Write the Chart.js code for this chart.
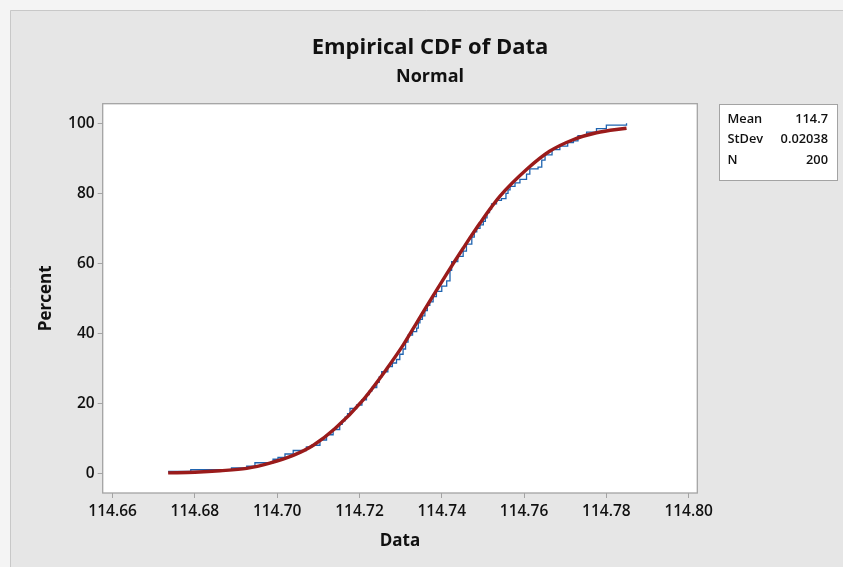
<!DOCTYPE html>
<html>
<head>
<meta charset="utf-8">
<script src="https://cdn.jsdelivr.net/npm/chart.js@4/dist/chart.umd.min.js"></script>
<style>
body{margin:0;background:#f4f4f4}
#wrap{width:843px;height:567px}
</style>
</head>
<body>
<div id="wrap"><canvas id="cdf" width="843" height="567"></canvas></div>
<script>
// ================= DATA =================
// fitted normal curve
const fitX=[114.6735,114.6800,114.6861,114.6926,114.6982,114.7039,114.7088,114.7140,114.7209,114.7266,114.7306,114.7339,114.7375,114.7412,114.7452,114.7493,114.7541,114.7608,114.7662,114.7719,114.7776,114.7849]
const fitY=[0.1,0.3,0.7,1.4,2.9,5.1,8.0,12.7,21.0,29.8,36.6,43.0,50.0,57.0,64.3,71.5,79.1,87.0,92.0,95.3,97.3,98.6]

// empirical steps (approximate)
const stepX=[114.6735,114.6790,114.6857,114.6889,114.6926,114.6946,114.6990,114.7002,114.7019,114.7039,114.7071,114.7084,114.7104,114.7120,114.7136,
114.7152,114.7158,114.7165,114.7171,114.7177,114.7193,114.7206,114.7217,114.7224,114.7230,114.7242,114.7248,114.7254,114.7269,114.7280,114.7290,
114.7298,114.7306,114.7312,114.7318,114.7329,114.7339,114.7343,114.7347,114.7353,114.7359,114.7365,114.7371,114.7379,114.7387,114.7400,114.7412,
114.7420,114.7424,114.7439,114.7452,114.7460,114.7473,114.7479,114.7485,114.7493,114.7501,114.7506,114.7510,114.7516,114.7521,114.7533,114.7545,
114.7556,114.7561,114.7566,114.7578,114.7590,114.7606,114.7614,114.7634,114.7643,114.7651,114.7668,114.7687,114.7706,114.7720,114.7731,114.7752,
114.7776,114.7800,114.7849]
const stepY=[0.5,1.0,1.0,1.5,2.0,3.0,4.0,4.5,5.5,6.5,7.5,8.0,9.5,11.0,12.5,
14.0,15.0,16.0,17.0,18.5,19.5,21.0,22.5,23.5,24.5,26.0,27.5,29.0,30.5,31.5,32.5,
34.0,35.5,37.5,39.5,40.5,41.5,43.0,44.0,45.0,46.5,48.0,49.0,50.5,52.0,53.5,55.0,
58.0,60.5,62.0,63.5,65.5,67.5,69.0,70.0,71.0,72.0,73.0,74.5,75.5,77.0,78.0,78.5,
80.0,81.0,82.0,83.0,84.0,85.5,87.0,87.5,89.5,91.0,92.5,93.5,94.5,95.0,96.5,97.5,
98.5,99.5,100.0]

const xTicks=[114.66,114.68,114.70,114.72,114.74,114.76,114.78,114.80]
const yTicks=[0,20,40,60,80,100]

const statNames=["Mean","StDev","N"]
const statValues=["114.7","0.02038","200"]

// ================= PLUGINS =================
const frame={
id:"frame",
beforeDraw(c){
const g=c.ctx,a=c.chartArea
g.save()
g.fillStyle="#f4f4f4"
g.fillRect(0,0,c.width,c.height)
g.fillStyle="#e6e6e6"
g.fillRect(10,10,c.width-10,c.height-10)
g.strokeStyle="#c8c8c8"
g.lineWidth=1
g.beginPath()
g.moveTo(10.5,c.height);g.lineTo(10.5,10.5);g.lineTo(c.width,10.5)
g.stroke()
g.fillStyle="#ffffff"
g.fillRect(a.left,a.top,a.right-a.left,a.bottom-a.top)
g.restore()
},
afterDraw(c){
const g=c.ctx,a=c.chartArea
g.save()
g.strokeStyle="#a3a3a3"
g.lineWidth=1.3
g.strokeRect(a.left,a.top,a.right-a.left,a.bottom-a.top)

// stats box
g.fillStyle="#ffffff"
g.fillRect(719.5,104.5,118,76)
g.strokeStyle="#a3a3a3"
g.lineWidth=1
g.strokeRect(719.5,104.5,118,76)
g.fillStyle="#111"
g.font="600 12.8px 'Open Sans'"
g.textBaseline="middle"
const rows=[119.5,139,160]
statNames.forEach((n,i)=>{
g.textAlign="left"
g.fillText(n,727.5,rows[i])
g.textAlign="right"
g.fillText(statValues[i],828,rows[i])
})
g.restore()
}
}

// ================= CHART =================
Chart.defaults.font.family="'Open Sans', sans-serif"
Chart.defaults.color="#111"

new Chart(document.getElementById("cdf"),{
type:"line",
data:{
datasets:[
{data:fitX.map((x,i)=>({x:x,y:fitY[i]})),borderColor:"#9a1b1b",borderWidth:3.4,pointRadius:0,cubicInterpolationMode:"monotone",fill:false},
{data:stepX.map((x,i)=>({x:x,y:stepY[i]})),borderColor:"#1f64b0",borderWidth:1.3,pointRadius:0,stepped:"before",fill:false}
]
},
options:{
responsive:false,
animation:false,
layout:{padding:{left:17,right:0,top:0,bottom:0}},
plugins:{
legend:{display:false},
tooltip:{enabled:false},
title:{display:true,text:"Empirical CDF of Data",font:{size:22,weight:"bold"},padding:{top:35,bottom:0},color:"#111"},
subtitle:{display:true,text:"Normal",font:{size:18,weight:"bold"},padding:{top:5,bottom:15.7},color:"#111"}
},
scales:{
x:{
type:"linear",
min:114.6576,max:114.8021,
afterBuildTicks:s=>{s.ticks=xTicks.map(v=>({value:v}))},
afterFit:s=>{s.height=74},
ticks:{callback:v=>v.toFixed(2),font:{size:15.5,weight:"600"},padding:4,maxRotation:0,autoSkip:false},
grid:{drawOnChartArea:false,drawTicks:true,tickLength:5,color:"#a3a3a3"},
border:{display:false},
title:{display:true,text:"Data",font:{size:17,weight:"bold"},padding:{top:0,bottom:16}}
},
y:{
min:-5.64,max:105.6,
afterBuildTicks:s=>{s.ticks=yTicks.map(v=>({value:v}))},
afterFit:s=>{s.width=85.7},
ticks:{font:{size:15.5,weight:"600"},padding:3,autoSkip:false},
grid:{drawOnChartArea:false,drawTicks:true,tickLength:5,color:"#a3a3a3"},
border:{display:false},
title:{display:true,text:"Percent",font:{size:17,weight:"bold"},padding:{top:19,bottom:0}}
},
yR:{
position:"right",
display:true,
afterFit:s=>{s.width=145.7},
ticks:{display:false},
grid:{display:false},
border:{display:false}
}
}
},
plugins:[frame]
})
</script>
</body>
</html>
